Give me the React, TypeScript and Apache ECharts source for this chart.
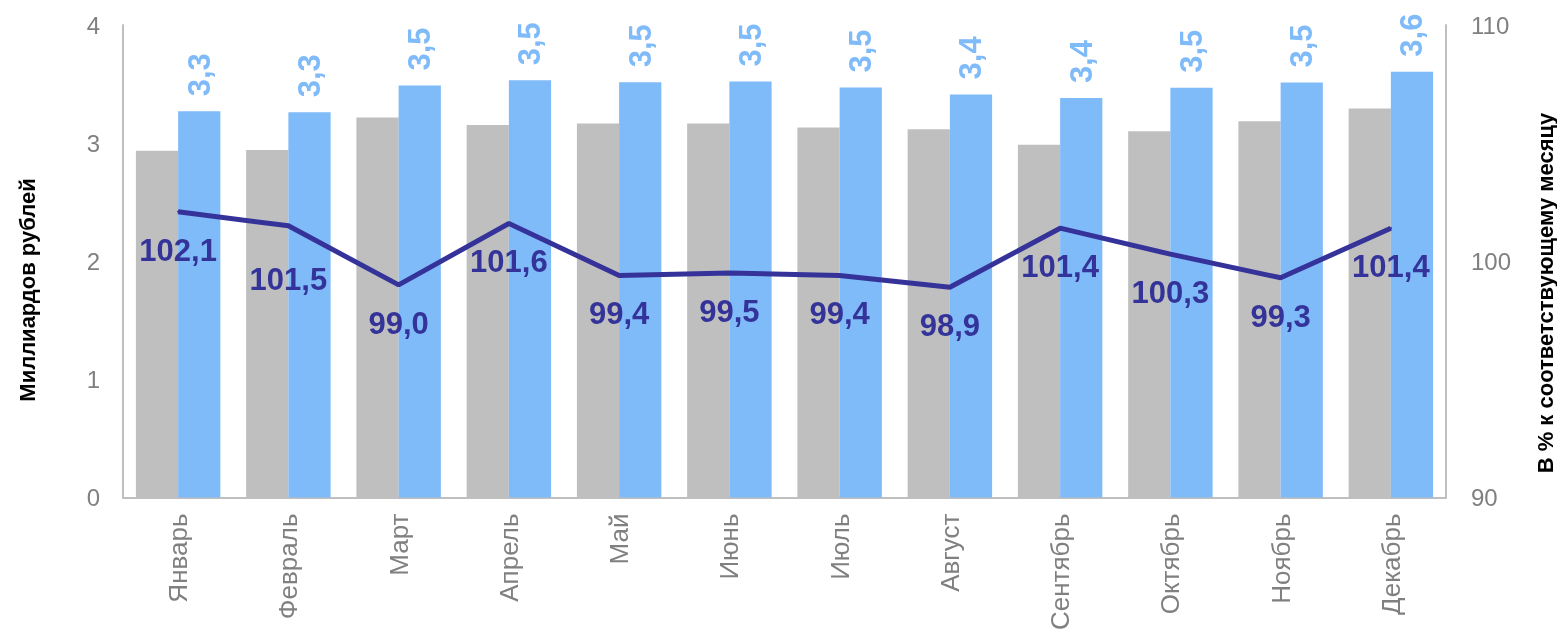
import React, { useEffect, useRef } from "react";
import * as echarts from "echarts";

const months = ["Январь", "Февраль", "Март", "Апрель", "Май", "Июнь", "Июль", "Август", "Сентябрь", "Октябрь", "Ноябрь", "Декабрь"];
const prevYear = [2.935, 2.941, 3.216, 3.154, 3.166, 3.166, 3.132, 3.118, 2.986, 3.101, 3.185, 3.294];
const currYear = [3.269, 3.261, 3.487, 3.532, 3.515, 3.521, 3.471, 3.412, 3.381, 3.468, 3.513, 3.605];
const pctPrev = [102.1, 101.5, 99.0, 101.6, 99.4, 99.5, 99.4, 98.9, 101.4, 100.3, 99.3, 101.4];
const leftTitle = "Миллиардов рублей";
const rightTitle = "В % к соответствующему месяцу";

const FONT = "'Liberation Sans', Arial, sans-serif";
const fmt = (v: number) => v.toFixed(1).replace(".", ",");
const extraLabelGap: Record<number, number> = { 1: 15 };

export default function App() {
  const ref = useRef<HTMLDivElement>(null);
  useEffect(() => {
    if (!ref.current) return;
    const chart = echarts.init(ref.current, null, { renderer: "svg" });
    const axisLineStyle = { color: "#BFBFBF", width: 2 };
    chart.setOption({
      animation: false,
      textStyle: { fontFamily: FONT },
      grid: { left: 123, right: 111, top: 25, bottom: 132, containLabel: false },
      xAxis: {
        type: "category",
        data: months,
        axisLine: { show: true, lineStyle: axisLineStyle },
        axisTick: { show: false },
        axisLabel: { rotate: 90, fontSize: 26, color: "#808080", margin: 16, fontFamily: FONT },
      },
      yAxis: [
        {
          type: "value",
          min: 0,
          max: 4,
          interval: 1,
          axisLine: { show: true, lineStyle: axisLineStyle },
          axisTick: { show: false },
          splitLine: { show: false },
          axisLabel: { fontSize: 24, color: "#808080", margin: 23, fontFamily: FONT },
        },
        {
          type: "value",
          min: 90,
          max: 110,
          interval: 10,
          position: "right",
          axisLine: { show: true, lineStyle: axisLineStyle },
          axisTick: { show: false },
          splitLine: { show: false },
          axisLabel: { fontSize: 24, color: "#808080", margin: 25, fontFamily: FONT },
        },
      ],
      graphic: [
        {
          type: "text",
          x: 27,
          y: 290,
          rotation: Math.PI / 2,
          style: { text: leftTitle, font: `bold 22px ${FONT}`, fill: "#000", align: "center", verticalAlign: "middle" },
        },
        {
          type: "text",
          x: 1545,
          y: 293,
          rotation: Math.PI / 2,
          style: { text: rightTitle, font: `bold 22px ${FONT}`, fill: "#000", align: "center", verticalAlign: "middle" },
        },
      ],
      series: [
        {
          type: "bar",
          data: prevYear,
          barGap: "0%",
          barCategoryGap: "23.4%",
          itemStyle: { color: "#BFBFBF" },
          emphasis: { disabled: true },
        },
        {
          type: "bar",
          data: currYear,
          itemStyle: { color: "#7FBAF9" },
          emphasis: { disabled: true },
          label: {
            show: true,
            position: "top",
            rotate: 90,
            align: "left",
            verticalAlign: "middle",
            distance: 15,
            formatter: (p: any) => fmt(p.value),
            fontSize: 31,
            fontWeight: "bold",
            color: "#7FBAF9",
            fontFamily: FONT,
          },
        },
        {
          type: "line",
          yAxisIndex: 1,
          data: pctPrev.map((v, i) => ({
            value: v,
            label: { distance: 22 + (extraLabelGap[i] || 0) },
          })),
          symbol: "circle",
          symbolSize: 2,
          showSymbol: true,
          lineStyle: { color: "#35339A", width: 5 },
          itemStyle: { color: "#35339A" },
          emphasis: { disabled: true },
          z: 5,
          label: {
            show: true,
            position: "bottom",
            distance: 22,
            formatter: (p: any) => fmt(p.value),
            fontSize: 31,
            fontWeight: "bold",
            color: "#333399",
            fontFamily: FONT,
          },
        },
      ],
    });
    return () => chart.dispose();
  }, []);
  return <div ref={ref} style={{ position: "fixed", left: 0, top: 0, width: 1557, height: 633 }} />;
}
